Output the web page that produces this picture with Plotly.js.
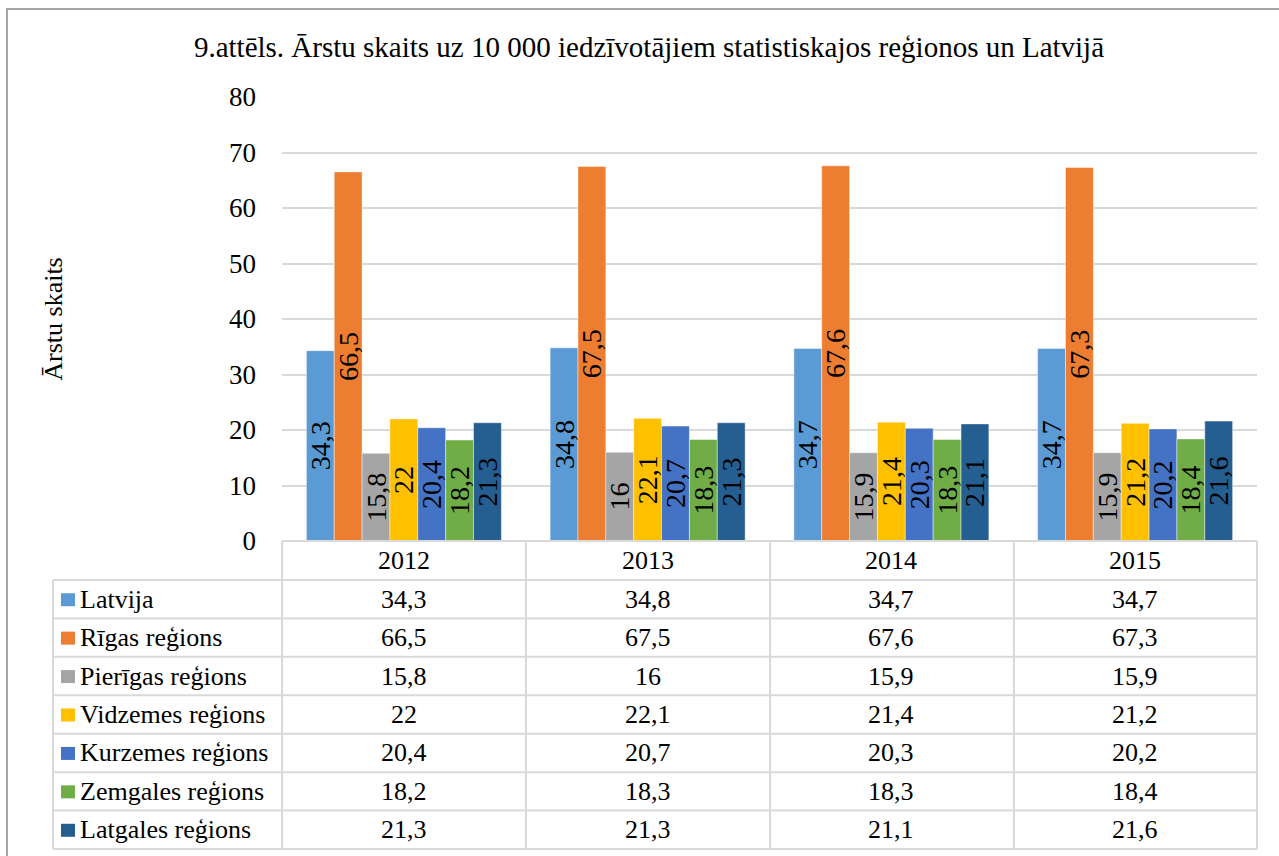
<!DOCTYPE html>
<html><head><meta charset="utf-8">
<script src="https://cdn.plot.ly/plotly-3.0.1.min.js"></script>
<style>html,body{margin:0;padding:0;background:#fff}</style>
</head><body><div id="chart" style="width:1279px;height:856px"></div>
<script>
// ---- data ----
const years = ['2012', '2013', '2014', '2015'];
const seriesNames = ['Latvija', 'Rīgas reģions', 'Pierīgas reģions', 'Vidzemes reģions', 'Kurzemes reģions', 'Zemgales reģions', 'Latgales reģions'];
const latvija  = [34.3, 34.8, 34.7, 34.7];
const rigas    = [66.5, 67.5, 67.6, 67.3];
const pierigas = [15.8, 16, 15.9, 15.9];
const vidzemes = [22, 22.1, 21.4, 21.2];
const kurzemes = [20.4, 20.7, 20.3, 20.2];
const zemgales = [18.2, 18.3, 18.3, 18.4];
const latgales = [21.3, 21.3, 21.1, 21.6];
const seriesValues = [latvija, rigas, pierigas, vidzemes, kurzemes, zemgales, latgales];
const titleText = '9.attēls. Ārstu skaits uz 10 000 iedzīvotājiem statistiskajos reģionos un Latvijā';
const yTitle = 'Ārstu skaits';

// ---- style ----
const colors = ['#5B9BD5', '#ED7D31', '#A5A5A5', '#FFC000', '#4472C4', '#70AD47', '#255E91'];
const FONT = '"Liberation Serif", "Times New Roman", serif';
const W = 1279, H = 856;
const PL = 282, PR = 1257, PT = 97, PB = 541;
const gridCol = '#D9D9D9';
const fmt = v => String(v).replace('.', ',');

const px = x => (x - PL) / (PR - PL);
const py = y => (PB - y) / (PB - PT);

const traces = seriesNames.map((name, i) => ({
  type: 'bar',
  name: name,
  x: years,
  y: seriesValues[i],
  text: seriesValues[i].map(fmt),
  textposition: 'inside',
  insidetextanchor: 'middle',
  textangle: -90,
  constraintext: 'none',
  textfont: {family: FONT, size: 28, color: '#000'},
  marker: {color: colors[i], line: {color: 'rgba(255,255,255,0.55)', width: 0.8}},
  cliponaxis: false
}));

// ---- data table under the plot ----
const tblLeft = 53, tblTop = PB, headBottom = 580, tblBottom = 849;
const rowH = (tblBottom - headBottom) / seriesNames.length;
const lineStyle = {color: gridCol, width: 2};
const shapes = [];
shapes.push({type: 'rect', xref: 'paper', yref: 'paper', x0: px(7), x1: px(1300), y0: py(9), y1: py(880),
  line: {color: '#A6A6A6', width: 2}, fillcolor: 'rgba(0,0,0,0)', layer: 'below'});
const colEdges = [PL, 526, 770, 1014, PR];
shapes.push({type: 'line', xref: 'paper', yref: 'paper', x0: px(PL), x1: px(PR), y0: py(tblTop), y1: py(tblTop), line: lineStyle});
colEdges.forEach(cx => shapes.push({type: 'line', xref: 'paper', yref: 'paper', x0: px(cx), x1: px(cx), y0: py(tblTop), y1: py(tblBottom), line: lineStyle}));
shapes.push({type: 'line', xref: 'paper', yref: 'paper', x0: px(tblLeft), x1: px(tblLeft), y0: py(headBottom), y1: py(tblBottom), line: lineStyle});
for (let r = 0; r <= seriesNames.length; r++) {
  const yy = headBottom + r * rowH;
  shapes.push({type: 'line', xref: 'paper', yref: 'paper', x0: px(tblLeft), x1: px(PR), y0: py(yy), y1: py(yy), line: lineStyle});
}
const annotations = [];
const tblFont = {family: FONT, size: 26, color: '#000'};
years.forEach((yr, j) => annotations.push({xref: 'x', yref: 'paper', x: j, y: py((tblTop + headBottom) / 2),
  text: yr, showarrow: false, xanchor: 'center', yanchor: 'middle', font: tblFont}));
seriesNames.forEach((name, i) => {
  const cy = headBottom + (i + 0.5) * rowH;
  shapes.push({type: 'rect', xref: 'paper', yref: 'paper', x0: px(61), x1: px(75), y0: py(cy - 6), y1: py(cy + 7),
    line: {width: 0}, fillcolor: colors[i]});
  annotations.push({xref: 'paper', yref: 'paper', x: px(78), y: py(cy), text: name, showarrow: false,
    xanchor: 'left', yanchor: 'middle', font: tblFont});
  seriesValues[i].forEach((v, j) => annotations.push({xref: 'x', yref: 'paper', x: j, y: py(cy),
    text: fmt(v), showarrow: false, xanchor: 'center', yanchor: 'middle', font: tblFont}));
});

const layout = {
  width: W, height: H,
  margin: {l: PL, r: W - PR, t: PT, b: H - PB, pad: 0},
  paper_bgcolor: '#fff', plot_bgcolor: '#fff',
  font: {family: FONT, color: '#000'},
  title: {text: titleText, font: {family: FONT, size: 29, color: '#000'},
    xref: 'container', yref: 'container', x: 649 / W, xanchor: 'center', y: 1 - 47 / H, yanchor: 'middle'},
  barmode: 'group', bargap: 0.2, bargroupgap: 0,
  showlegend: false,
  xaxis: {type: 'category', categoryarray: years, range: [-0.5, 3.5], showticklabels: false, ticks: '',
    showgrid: false, zeroline: false, showline: false, fixedrange: true},
  yaxis: {range: [0, 80], dtick: 10, tick0: 0, showgrid: true, gridcolor: gridCol, gridwidth: 2,
    zeroline: false, showline: false, ticks: '', ticklabelstandoff: 25,
    tickfont: {family: FONT, size: 27, color: '#000'},
    title: {text: yTitle, font: {family: FONT, size: 26, color: '#000'}, standoff: 158}},
  shapes: shapes,
  annotations: annotations
};

Plotly.newPlot('chart', traces, layout, {displayModeBar: false, staticPlot: true});
</script></body></html>
